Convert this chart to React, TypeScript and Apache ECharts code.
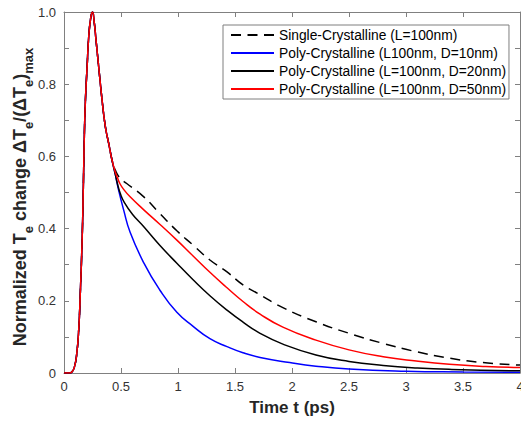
import React, { useEffect, useRef } from "react";
import * as echarts from "echarts";

// Shared rise and early decay (all four curves coincide here)
const riseT = [0, 0.05, 0.072, 0.09, 0.109, 0.129, 0.144, 0.159, 0.168, 0.173, 0.179, 0.188, 0.203, 0.217, 0.235, 0.25, 0.265, 0.28, 0.304, 0.334, 0.363, 0.392, 0.421];
const riseV = [0, 0, 0.004, 0.015, 0.045, 0.119, 0.23, 0.368, 0.49, 0.571, 0.665, 0.756, 0.85, 0.932, 0.985, 1.0, 0.972, 0.925, 0.849, 0.756, 0.682, 0.636, 0.59];

// Tails after the curves separate
const singleT = [0.45, 0.494, 0.55, 0.7, 0.84, 0.99, 1.13, 1.28, 1.43, 1.57, 1.69, 1.92, 2.21, 2.5, 2.8, 3.09, 3.38, 3.67, 4.0];
const singleV = [0.562, 0.539, 0.525, 0.488, 0.442, 0.394, 0.355, 0.313, 0.28, 0.244, 0.222, 0.181, 0.142, 0.11, 0.082, 0.059, 0.041, 0.029, 0.022];

const d10T = [0.45, 0.48, 0.523, 0.58, 0.7, 0.84, 0.99, 1.13, 1.28, 1.43, 1.57, 1.72, 1.98, 2.21, 2.5, 3.0, 3.5, 4.0];
const d10V = [0.55, 0.505, 0.452, 0.39, 0.305, 0.23, 0.168, 0.13, 0.095, 0.073, 0.056, 0.043, 0.029, 0.019, 0.011, 0.005, 0.003, 0.002];

const d20T = [0.45, 0.47, 0.494, 0.53, 0.6, 0.7, 0.84, 0.99, 1.13, 1.28, 1.43, 1.57, 1.72, 1.92, 2.21, 2.5, 2.8, 3.1, 3.4, 4.0];
const d20V = [0.55, 0.523, 0.497, 0.472, 0.44, 0.405, 0.354, 0.304, 0.259, 0.214, 0.174, 0.141, 0.11, 0.08, 0.05, 0.032, 0.021, 0.014, 0.01, 0.006];

const d50T = [0.45, 0.47, 0.49, 0.52, 0.58, 0.7, 0.84, 0.99, 1.13, 1.28, 1.43, 1.57, 1.72, 1.92, 2.21, 2.5, 2.8, 3.09, 3.38, 3.7, 4.0];
const d50V = [0.556, 0.54, 0.525, 0.51, 0.488, 0.452, 0.412, 0.368, 0.325, 0.279, 0.236, 0.198, 0.163, 0.127, 0.091, 0.064, 0.045, 0.033, 0.024, 0.018, 0.015];

const seriesNames = [
  "Single-Crystalline (L=100nm)",
  "Poly-Crystalline (L100nm, D=10nm)",
  "Poly-Crystalline (L=100nm, D=20nm)",
  "Poly-Crystalline (L=100nm, D=50nm)",
];
const seriesColors = ["#000000", "#0000ff", "#000000", "#ff0000"];

const xMin = 0, xMax = 4, xStep = 0.5;
const yMin = 0, yMax = 1, yStep = 0.1;

const FONT = '"Liberation Sans", Arial, Helvetica, sans-serif';

function build(tailT: number[], tailV: number[]) {
  const pts: number[][] = riseT.map((t, i) => [t, riseV[i]]);
  tailT.forEach((t, i) => pts.push([t, tailV[i]]));
  return pts;
}

export default function App() {
  const ref = useRef<HTMLDivElement>(null);
  useEffect(() => {
    if (!ref.current) return;
    const chart = echarts.init(ref.current, undefined, { renderer: "svg" });
    const axisColor = "#808080";
    const tails = [
      [singleT, singleV],
      [d10T, d10V],
      [d20T, d20V],
      [d50T, d50V],
    ];
    const yFmt = (v: number) => {
      const k = Math.round(v * 10);
      if (k === 0) return "0";
      if (k === 10) return "1.0";
      if (k % 2 === 0) return (k / 10).toFixed(1);
      return "";
    };
    const xBase = {
      type: "value",
      min: xMin,
      max: xMax,
      interval: xStep,
      axisLine: { show: true, onZero: false, lineStyle: { color: axisColor, width: 1 } },
      axisTick: { show: true, inside: true, length: 5, lineStyle: { color: axisColor } },
      splitLine: { show: false },
    };
    const yBase = {
      type: "value",
      min: yMin,
      max: yMax,
      interval: yStep,
      axisLine: { show: true, onZero: false, lineStyle: { color: axisColor, width: 1 } },
      axisTick: { show: true, inside: true, length: 5, lineStyle: { color: axisColor } },
      splitLine: { show: false },
    };
    const option: any = {
      animation: false,
      textStyle: { fontFamily: FONT },
      grid: { left: 64, right: 1, top: 12, bottom: 49, containLabel: false, outerBoundsMode: "none" },
      xAxis: [
        {
          ...xBase,
          position: "bottom",
          axisLabel: { color: "#333", fontSize: 13, margin: 7, fontFamily: FONT, formatter: (v: number) => String(v) },
        },
        { ...xBase, position: "top", axisLabel: { show: false } },
      ],
      yAxis: [
        {
          ...yBase,
          position: "left",
          axisLabel: { color: "#333", fontSize: 13, margin: 8, fontFamily: FONT, formatter: yFmt },
        },
        { ...yBase, position: "right", axisLabel: { show: false } },
      ],
      legend: {
        orient: "vertical",
        left: 223,
        top: 25,
        padding: [3, 3, 3, 7],
        itemGap: 4,
        itemWidth: 43,
        itemHeight: 14,
        borderColor: "#7f7f7f",
        borderWidth: 1,
        borderRadius: 0,
        backgroundColor: "#ffffff",
        itemStyle: { color: "transparent", borderColor: "transparent", borderWidth: 0 },
        textStyle: { fontSize: 13.8, color: "#000", fontFamily: FONT },
        data: seriesNames,
      },
      graphic: [
        {
          type: "text",
          x: 22.5,
          y: 197,
          rotation: Math.PI / 2,
          style: {
            text: "{a|Normalized T}{s|e}{a| change ΔT}{s|e}{a|/(ΔT}{s|e}{a|)}{s|max}",
            align: "center",
            verticalAlign: "middle",
            rich: {
              a: { fontSize: 18, fontWeight: "bold", fill: "#262626", fontFamily: FONT, verticalAlign: "top" },
              s: { fontSize: 13, fontWeight: "bold", fill: "#262626", fontFamily: FONT, verticalAlign: "top", padding: [11, 0, 0, 0] },
            },
          },
        },
        {
          type: "text",
          x: 292,
          y: 407,
          style: {
            text: "Time t (ps)",
            align: "center",
            verticalAlign: "middle",
            fontSize: 17,
            fontWeight: "bold",
            fill: "#262626",
            fontFamily: FONT,
          },
        },
      ],
      series: tails.map(([tt, vv], i) => ({
        name: seriesNames[i],
        type: "line",
        xAxisIndex: 0,
        yAxisIndex: 0,
        data: build(tt, vv),
        symbol: "none",
        smooth: 0.5,
        lineStyle: {
          color: seriesColors[i],
          width: 1.5,
          type: i === 0 ? [10, 6.5] : "solid",
        },
        itemStyle: { color: seriesColors[i] },
        z: 2 + i,
      })),
    };
    chart.setOption(option);
    return () => chart.dispose();
  }, []);
  return (
    <div
      ref={ref}
      style={{ position: "fixed", left: 0, top: 0, width: 521, height: 422, background: "#fff" }}
    />
  );
}
